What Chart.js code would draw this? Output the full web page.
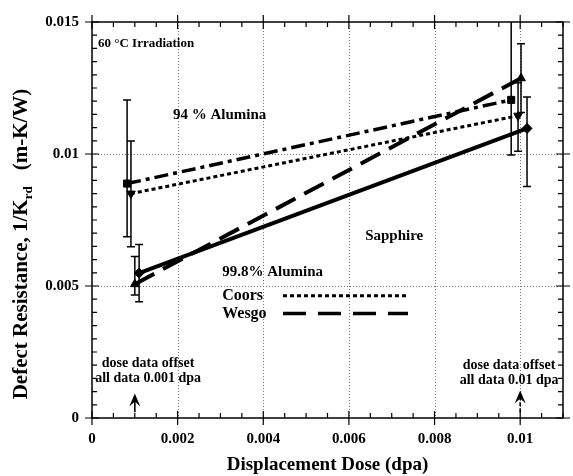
<!DOCTYPE html>
<html>
<head>
<meta charset="utf-8">
<script src="https://cdn.jsdelivr.net/npm/chart.js@4"></script>
<style>
html, body { margin: 0; padding: 0; background: #fff; }
</style>
</head>
<body>
<canvas id="chart" width="573" height="476"></canvas>
<script>
// Axis ticks
const xTicks = [0, 0.002, 0.004, 0.006, 0.008, 0.01];
const yTicks = [0, 0.005, 0.01, 0.015];
const xMinorStep = 0.0005;
const yMinorStep = 0.0005;

// 94 % Alumina (square, dash-dot)
const alumina94X = [0.00082, 0.00979];
const alumina94Y = [0.00888, 0.01205];
const alumina94Lo = [0.00687, 0.00996];
const alumina94Hi = [0.01205, 0.0156];

// 99.8% Alumina, Coors (down triangle, dotted)
const coorsX = [0.00091, 0.00995];
const coorsY = [0.0085, 0.01145];
const coorsLo = [0.00649, 0.0101];
const coorsHi = [0.01049, 0.0127];

// 99.8% Alumina, Wesgo (up triangle, long dash)
const wesgoX = [0.001, 0.01002];
const wesgoY = [0.00507, 0.01287];
const wesgoLo = [0.00466, 0.01157];
const wesgoHi = [0.00612, 0.01418];

// Sapphire (diamond, solid)
const sapphireX = [0.0011, 0.01016];
const sapphireY = [0.00549, 0.01097];
const sapphireLo = [0.0044, 0.00877];
const sapphireHi = [0.00657, 0.01216];

const serif = "'Liberation Serif', 'Times New Roman', serif";

function points(xs, ys, lo, hi) {
    return xs.map((v, i) => ({ x: v, y: ys[i], lo: lo[i], hi: hi[i] }));
}

// error bars, drawn under the lines and markers
const errorBars = {
    id: "errorBars",
    beforeDatasetsDraw(chart) {
        const { ctx, chartArea: a, scales: { x, y } } = chart;
        ctx.save();
        ctx.beginPath();
        ctx.rect(a.left, a.top, a.right - a.left, a.bottom - a.top);
        ctx.clip();
        ctx.strokeStyle = "#000";
        ctx.lineWidth = 1.5;
        chart.data.datasets.forEach((ds) => {
            ds.data.forEach((p) => {
                const px = x.getPixelForValue(p.x);
                const lo = y.getPixelForValue(p.lo);
                const hi = y.getPixelForValue(p.hi);
                ctx.beginPath();
                ctx.moveTo(px, lo); ctx.lineTo(px, hi);
                ctx.moveTo(px - 4, lo); ctx.lineTo(px + 4, lo);
                ctx.moveTo(px - 4, hi); ctx.lineTo(px + 4, hi);
                ctx.stroke();
            });
        });
        ctx.restore();
    },
};

// dotted grid, boxed frame with inward minor ticks
const frame = {
    id: "frame",
    beforeDatasetsDraw(chart) {
        const { ctx, chartArea: a, scales: { x, y } } = chart;
        ctx.save();
        ctx.strokeStyle = "#777";
        ctx.lineWidth = 1;
        ctx.setLineDash([1, 2]);
        xTicks.slice(1).forEach((v) => {
            const px = Math.round(x.getPixelForValue(v)) + 0.5;
            ctx.beginPath(); ctx.moveTo(px, a.top); ctx.lineTo(px, a.bottom); ctx.stroke();
        });
        yTicks.slice(1, -1).forEach((v) => {
            const py = Math.round(y.getPixelForValue(v)) + 0.5;
            ctx.beginPath(); ctx.moveTo(a.left, py); ctx.lineTo(a.right, py); ctx.stroke();
        });
        ctx.restore();
    },
    afterDraw(chart) {
        const { ctx, chartArea: a, scales: { x, y } } = chart;
        ctx.save();
        ctx.strokeStyle = "#000";
        ctx.lineWidth = 1.5;
        ctx.strokeRect(a.left, a.top, a.right - a.left, a.bottom - a.top);
        ctx.lineWidth = 1.2;
        ctx.beginPath();
        for (let v = x.min; v <= x.max + 1e-9; v += xMinorStep) {
            const px = x.getPixelForValue(v);
            const major = xTicks.some((t) => Math.abs(t - v) < 1e-9);
            const out = major ? 7 : 0, inn = major ? 7 : 5;
            ctx.moveTo(px, a.bottom + out); ctx.lineTo(px, a.bottom - inn);
            ctx.moveTo(px, a.top - out); ctx.lineTo(px, a.top + inn);
        }
        for (let v = y.min; v <= y.max + 1e-9; v += yMinorStep) {
            const py = y.getPixelForValue(v);
            const major = yTicks.some((t) => Math.abs(t - v) < 1e-9);
            const out = major ? 7 : 0, inn = major ? 7 : 5;
            ctx.moveTo(a.left - out, py); ctx.lineTo(a.left + inn, py);
            ctx.moveTo(a.right + out, py); ctx.lineTo(a.right - inn, py);
        }
        ctx.stroke();
        ctx.restore();
    },
};

// titles, labels, legend and offset arrows
const notes = {
    id: "notes",
    afterDraw(chart) {
        const { ctx, chartArea: a, scales: { x, y } } = chart;
        const X = (v) => x.getPixelForValue(v);
        const Y = (v) => y.getPixelForValue(v);
        ctx.save();
        ctx.fillStyle = "#000";
        ctx.textBaseline = "middle";

        // axis titles
        ctx.font = `bold 19px ${serif}`;
        ctx.textAlign = "center";
        ctx.fillText("Displacement Dose (dpa)", (a.left + a.right) / 2, 465);

        const main = "Defect Resistance, 1/K", sub = "rd", unit = "(m-K/W)";
        const bigFont = `bold 21px ${serif}`, subFont = `bold 13px ${serif}`;
        ctx.font = bigFont;
        const w1 = ctx.measureText(main).width, w3 = ctx.measureText(unit).width;
        ctx.font = subFont;
        const w2 = ctx.measureText(sub).width;
        const gap = 16;
        const total = w1 + w2 + gap + w3;
        ctx.translate(22, (a.top + a.bottom) / 2 + 24);
        ctx.rotate(-Math.PI / 2);
        ctx.textAlign = "left";
        let cx = -total / 2;
        ctx.font = bigFont;
        ctx.fillText(main, cx, 0);
        cx += w1;
        ctx.font = subFont;
        ctx.fillText(sub, cx, 7);
        cx += w2 + gap;
        ctx.font = bigFont;
        ctx.fillText(unit, cx, 0);
        ctx.setTransform(1, 0, 0, 1, 0, 0);

        // in-plot labels
        ctx.textAlign = "left";
        ctx.font = `bold 13px ${serif}`;
        ctx.fillText("60 \u00B0C Irradiation", X(0.00014), Y(0.01418));
        ctx.font = `bold 15px ${serif}`;
        ctx.fillText("94 % Alumina", X(0.00189), Y(0.01149));
        ctx.fillText("Sapphire", X(0.00638), Y(0.0069));
        ctx.fillText("99.8% Alumina", X(0.00304), Y(0.00552));
        ctx.font = `bold 16px ${serif}`;
        ctx.fillText("Coors", X(0.00304), Y(0.00463));
        ctx.fillText("Wesgo", X(0.00304), Y(0.00396));

        // legend samples
        ctx.strokeStyle = "#000";
        ctx.lineWidth = 3;
        ctx.setLineDash([4, 3]);
        ctx.beginPath(); ctx.moveTo(X(0.00446), Y(0.00463)); ctx.lineTo(X(0.00738), Y(0.00463)); ctx.stroke();
        ctx.lineWidth = 3.5;
        ctx.setLineDash([23, 12]);
        ctx.beginPath(); ctx.moveTo(X(0.00446), Y(0.00396)); ctx.lineTo(X(0.00738), Y(0.00396)); ctx.stroke();
        ctx.setLineDash([]);

        // dose offset notes
        ctx.textAlign = "center";
        ctx.font = `bold 14px ${serif}`;
        ctx.fillText("dose data offset", X(0.00131), Y(0.00205));
        ctx.fillText("all data 0.001 dpa", X(0.00131), Y(0.00149));
        ctx.fillText("dose data offset", X(0.00974), Y(0.00201));
        ctx.fillText("all data 0.01 dpa", X(0.00974), Y(0.00142));

        const arrow = (xv, y0, y1, dash) => {
            const px = X(xv), p0 = Y(y0), p1 = Y(y1);
            ctx.lineWidth = 1.6;
            ctx.setLineDash(dash);
            ctx.beginPath(); ctx.moveTo(px, p0); ctx.lineTo(px, p1 + 7); ctx.stroke();
            ctx.setLineDash([]);
            ctx.beginPath();
            ctx.moveTo(px, p1);
            ctx.lineTo(px + 5.5, p1 + 13);
            ctx.lineTo(px, p1 + 8);
            ctx.lineTo(px - 5.5, p1 + 13);
            ctx.closePath();
            ctx.fill();
        };
        arrow(0.001, 0.00022, 0.00093, []);
        arrow(0.01, 0.00022, 0.00104, [4, 2]);
        ctx.restore();
    },
};

const marker = { pointBackgroundColor: "#000", pointBorderColor: "#000", pointBorderWidth: 1, borderColor: "#000", showLine: true, fill: false };

new Chart(document.getElementById("chart"), {
    type: "scatter",
    data: {
        datasets: [
            { label: "94 % Alumina", data: points(alumina94X, alumina94Y, alumina94Lo, alumina94Hi), ...marker,
              borderWidth: 3.5, borderDash: [14, 5, 4, 5], pointStyle: "rect", pointRadius: 5 },
            { label: "Coors", data: points(coorsX, coorsY, coorsLo, coorsHi), ...marker,
              borderWidth: 3, borderDash: [4, 3], pointStyle: "triangle", rotation: 180, pointRadius: 5 },
            { label: "Wesgo", data: points(wesgoX, wesgoY, wesgoLo, wesgoHi), ...marker,
              borderWidth: 4, borderDash: [22, 10], pointStyle: "triangle", pointRadius: 5 },
            { label: "Sapphire", data: points(sapphireX, sapphireY, sapphireLo, sapphireHi), ...marker,
              borderWidth: 4, pointStyle: "rectRot", pointRadius: 5 },
        ],
    },
    options: {
        responsive: false,
        animation: false,
        devicePixelRatio: 1,
        layout: { padding: { top: 16, right: 10, left: 0, bottom: 0 } },
        plugins: { legend: { display: false }, tooltip: { enabled: false } },
        scales: {
            x: {
                type: "linear",
                min: 0,
                max: 0.011,
                afterBuildTicks: (s) => { s.ticks = xTicks.map((v) => ({ value: v })); },
                afterFit: (s) => { s.height = 58; },
                grid: { display: false, drawTicks: false },
                border: { display: false },
                ticks: {
                    padding: 12,
                    color: "#000",
                    font: { family: serif, weight: "bold", size: 15 },
                    callback: (v) => String(+Number(v).toFixed(4)),
                },
            },
            y: {
                type: "linear",
                min: 0,
                max: 0.015,
                afterBuildTicks: (s) => { s.ticks = yTicks.map((v) => ({ value: v })); },
                afterFit: (s) => { s.width = 92; },
                grid: { display: false, drawTicks: false },
                border: { display: false },
                ticks: {
                    padding: 13,
                    color: "#000",
                    font: { family: serif, weight: "bold", size: 15 },
                    callback: (v) => String(+Number(v).toFixed(4)),
                },
            },
        },
    },
    plugins: [frame, errorBars, notes],
});
</script>
</body>
</html>
